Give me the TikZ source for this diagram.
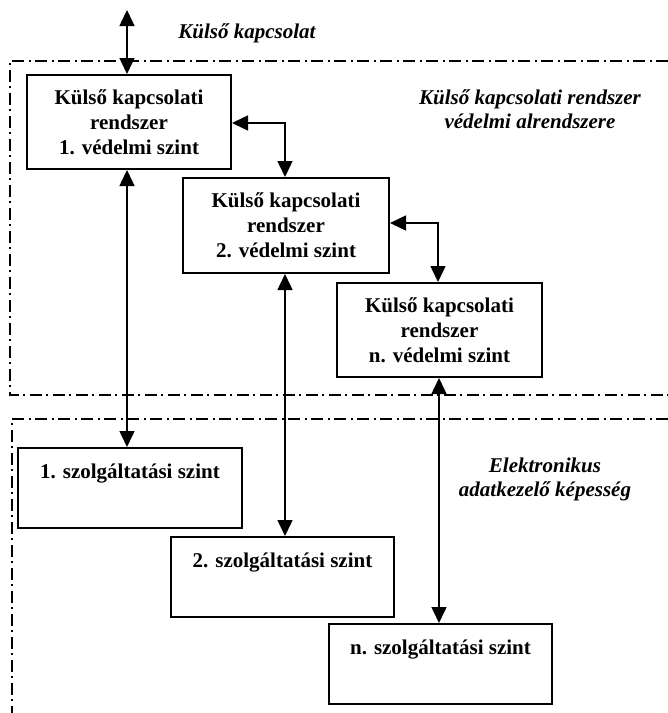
\documentclass[tikz,border=0pt]{standalone}
\usepackage{fontspec}
\setmainfont{Liberation Serif}
\usetikzlibrary{arrows.meta}
\begin{document}
\begin{tikzpicture}[x=1pt,y=-1pt,
  txt/.style={font=\fontsize{21}{25}\selectfont\bfseries},
  itxt/.style={font=\fontsize{21}{24}\selectfont\bfseries\itshape, align=center},
  levelbox/.style={draw, line width=2pt, txt, align=center, inner sep=0pt, anchor=north west},
  servicebox/.style={draw, line width=2pt, txt, inner sep=0pt, anchor=north west,
    text height=30pt, text depth=50pt},
  region/.style={line width=1.5pt, dash pattern=on 12pt off 4pt on 2pt off 5pt},
  link/.style={line width=1.5pt, {Triangle[length=16pt,width=15pt]}-{Triangle[length=16pt,width=15pt]}}
]
\useasboundingbox (0,0) rectangle (668,713);

% dash-dot regions
\draw[region] (668,61) -- (10,61) -- (10,395) -- (668,395);
\draw[region] (668,419) -- (12,419) -- (12,713);

% protection levels
\node[levelbox, minimum width=204pt, minimum height=94pt] (k1) at (26,74)
  {Külső kapcsolati\\rendszer\\1. védelmi szint};
\node[levelbox, minimum width=206pt, minimum height=95pt] (k2) at (182,177)
  {Külső kapcsolati\\rendszer\\2. védelmi szint};
\node[levelbox, minimum width=205pt, minimum height=94pt] (kn) at (336,282)
  {Külső kapcsolati\\rendszer\\n. védelmi szint};

% service levels
\node[servicebox, minimum width=224pt] (s1) at (17,447) {\makebox[224pt]{1. szolgáltatási szint}};
\node[servicebox, minimum width=223pt] (s2) at (170,536) {\makebox[223pt]{2. szolgáltatási szint}};
\node[servicebox, minimum width=223pt] (sn) at (328,623) {\makebox[223pt]{n. szolgáltatási szint}};

% labels
\node[itxt] (lext) at (247,33) {Külső kapcsolat};
\node[itxt] (lsub) at (530,109) {Külső kapcsolati rendszer\\védelmi alrendszere};
\node[itxt] (lel) at (545,479) {Elektronikus\\adatkezelő képesség};

% connectors
\coordinate (top) at (127,10);
\draw[link] (top) -- (k1.north -| top);
\draw[link] (k1.east |- 0,123) -| (k2.north -| 285,0);
\draw[link] (k2.east |- 0,223) -| (kn.north -| 438,0);
\draw[link] (k1.south -| 127,0) -- (s1.north -| 127,0);
\draw[link] (k2.south -| 285,0) -- (s2.north -| 285,0);
\draw[link] (kn.south -| 439,0) -- (sn.north -| 439,0);
\end{tikzpicture}
\end{document}
